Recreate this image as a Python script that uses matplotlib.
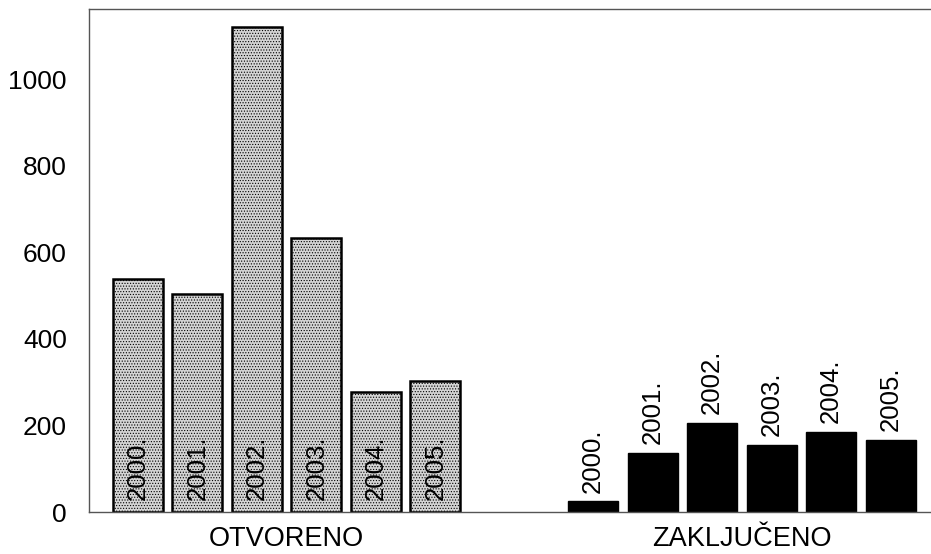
import matplotlib.pyplot as plt
import numpy as np

plt.rcParams['font.family'] = ['Liberation Sans', 'DejaVu Sans']
plt.rcParams['hatch.color'] = '#a8a8a8'
plt.rcParams['hatch.linewidth'] = 0.5

# data
years = ['2000.', '2001.', '2002.', '2003.', '2004.', '2005.']
groups = ['OTVORENO', 'ZAKLJUČENO']
otvoreno = [538, 503, 1120, 633, 277, 302]
zakljuceno = [25, 136, 206, 155, 185, 166]

# bar positions: one slot per year, gap between the two groups
x1 = np.arange(len(years))
x2 = x1 + 7.65
width = 0.84

fig = plt.figure(figsize=(9.31, 5.54), dpi=100)
ax = fig.add_axes([0.0956, 0.0758, 0.9044, 0.908])

ax.bar(x1, otvoreno, width, color='#d4d4d4', edgecolor='black',
       linewidth=1.8, hatch='......')
ax.bar(x2, zakljuceno, width, color='black', edgecolor='black', linewidth=1)

# year labels: inside the grey bars, above the black ones
for x, v, lab in zip(x1, otvoreno, years):
    ax.text(x, 27, lab, rotation=90, ha='center', va='bottom', fontsize=18.5)
for x, v, lab in zip(x2, zakljuceno, years):
    ax.text(x, v + 20, lab, rotation=90, ha='center', va='bottom', fontsize=18.5)

ax.set_xlim(-0.82, 13.33)
ax.set_ylim(0, 1162)
ax.set_yticks([0, 200, 400, 600, 800, 1000])
ax.set_xticks([x1.mean(), x2.mean()])
ax.set_xticklabels(groups)
ax.tick_params(axis='y', length=0, labelsize=19, pad=16)
ax.tick_params(axis='x', length=0, labelsize=19.5, pad=10)

ax.spines['right'].set_visible(False)
for s in ['left', 'top', 'bottom']:
    ax.spines[s].set_color('#555555')
    ax.spines[s].set_linewidth(1)

fig.savefig('out.png', dpi=100)
